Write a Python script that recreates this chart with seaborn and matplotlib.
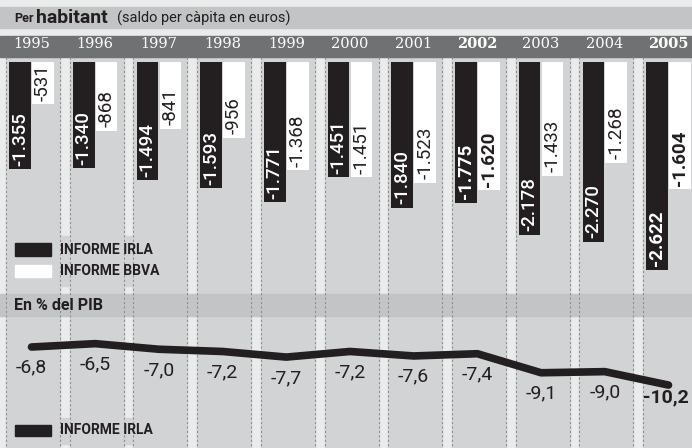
import matplotlib
matplotlib.use("Agg")
import numpy as np
import pandas as pd
import matplotlib.pyplot as plt
import seaborn as sns
from matplotlib.patches import Rectangle

# data
years = ['1995', '1996', '1997', '1998', '1999', '2000', '2001', '2002', '2003', '2004', '2005']
irla = [-1355, -1340, -1494, -1593, -1771, -1451, -1840, -1775, -2178, -2270, -2622]
bbva = [-531, -868, -841, -956, -1368, -1451, -1523, -1620, -1433, -1268, -1604]
pib = [-6.8, -6.5, -7.0, -7.2, -7.7, -7.2, -7.6, -7.4, -9.1, -9.0, -10.2]
bold_years = ['2002', '2005']

DARK = '#231f20'
LIGHT = '#eaebeb'
COL = '#d1d3d4'
MID = '#c2c4c6'
HEAD = '#6f7173'

sns.set_theme(style='white')
plt.rcParams['font.family'] = ['Roboto', 'DejaVu Sans']

W, H = 692, 448
fig = plt.figure(figsize=(6.92, 4.48), dpi=100)

# background: panels, column stripes, headers
bg = fig.add_axes([0, 0, 1, 1])
bg.set_xlim(0, W)
bg.set_ylim(H, 0)
bg.axis('off')
bg.add_patch(Rectangle((0, 0), W, H, color=LIGHT))
step = 63.7
for i in range(len(years)):
    x0 = 6 + step * i
    bg.add_patch(Rectangle((x0, 57), 54, H - 57, color=COL))
    for xe in (x0, x0 + 54):
        bg.plot([xe, xe], [57, H], color='#8d8f91', lw=0.8, ls=(0, (2, 2)))
bg.add_patch(Rectangle((0, 7), W, 21, color=MID))
bg.add_patch(Rectangle((0, 36), W, 21, color=HEAD))
bg.add_patch(Rectangle((0, 294), W, 22, color=MID))

bg.text(14, 19, 'Per', fontsize=9, fontweight='bold', color=DARK, va='center')
bg.text(36, 18, 'habitant', fontsize=14, fontweight='bold', color=DARK, va='center')
bg.text(117, 18.5, '(saldo per càpita en euros)', fontsize=10.5, color=DARK, va='center')
bg.text(14, 305, 'En % del PIB', fontsize=11.5, fontweight='bold', color=DARK, va='center')

# legends
bg.add_patch(Rectangle((7, 236), 153, 50, color=COL))
bg.add_patch(Rectangle((15, 243), 36, 13, color=DARK))
bg.text(60, 250, 'INFORME IRLA', fontsize=10, fontweight='bold', color=DARK, va='center')
bg.add_patch(Rectangle((15, 265), 36, 12, color='white'))
bg.text(60, 271, 'INFORME BBVA', fontsize=10, fontweight='bold', color=DARK, va='center')
bg.add_patch(Rectangle((7, 418), 153, 26, color=COL))
bg.add_patch(Rectangle((15, 425), 36, 11, color=DARK))
bg.text(60, 430, 'INFORME IRLA', fontsize=10, fontweight='bold', color=DARK, va='center')

xl = (-31.5 / step, (W - 31.5) / step)

# bars per habitant
df = pd.DataFrame({
    'year': years * 2,
    'value': irla + bbva,
    'informe': ['INFORME IRLA'] * len(years) + ['INFORME BBVA'] * len(years),
})
ax_b = fig.add_axes([0, 1 - 292 / H, 1, 235 / H])
sns.barplot(data=df, x='year', y='value', hue='informe', order=years,
            hue_order=['INFORME IRLA', 'INFORME BBVA'], palette=[DARK, 'white'],
            width=0.72, gap=0.06, errorbar=None, saturation=1, linewidth=0,
            legend=False, ax=ax_b)
ax_b.set_xlim(*xl)
ax_b.set_ylim(-2900, 63)
ax_b.set_facecolor('none')
for s in ax_b.spines.values():
    s.set_visible(False)
ax_b.set_xlabel('')
ax_b.set_ylabel('')
ax_b.set_yticks([])
ax_b.tick_params(axis='x', top=True, bottom=False, labeltop=True, labelbottom=False,
                 length=0, pad=4, colors='white', labelsize=10.5)
for lab in ax_b.get_xticklabels():
    lab.set_family('DejaVu Serif')
    if lab.get_text() in bold_years:
        lab.set_fontweight('bold')

def fmt(v):
    return f'{v:,}'.replace(',', '.')

for i, y in enumerate(years):
    w = 'bold' if y in bold_years else 'medium'
    ax_b.text(i - 0.18, irla[i] + 45, fmt(irla[i]), rotation=90, ha='center', va='bottom',
              color='white', fontsize=13.5, fontweight=w)
    ax_b.text(i + 0.18, bbva[i] + 45, fmt(bbva[i]), rotation=90, ha='center', va='bottom',
              color=DARK, fontsize=13.5, fontweight='bold' if y in bold_years else 'normal')

# line % PIB
ax_l = fig.add_axes([0, 0, 1, 131 / H])
sns.lineplot(x=np.arange(len(years)), y=pib, ax=ax_l, color=DARK, lw=5.5,
             solid_capstyle='round')
ax_l.set_xlim(*xl)
ax_l.set_ylim(-15.82, -4.12)
ax_l.axis('off')
for i, v in enumerate(pib):
    last = i == len(pib) - 1
    ax_l.annotate(f'{v:.1f}'.replace('.', ','), (i, v),
                  xytext=(-2 if last else 0, -9 if last else -15), textcoords='offset points',
                  ha='center', va='center', fontsize=14,
                  fontweight='bold' if last else 'normal', color=DARK)

fig.savefig('out.png', dpi=100)
